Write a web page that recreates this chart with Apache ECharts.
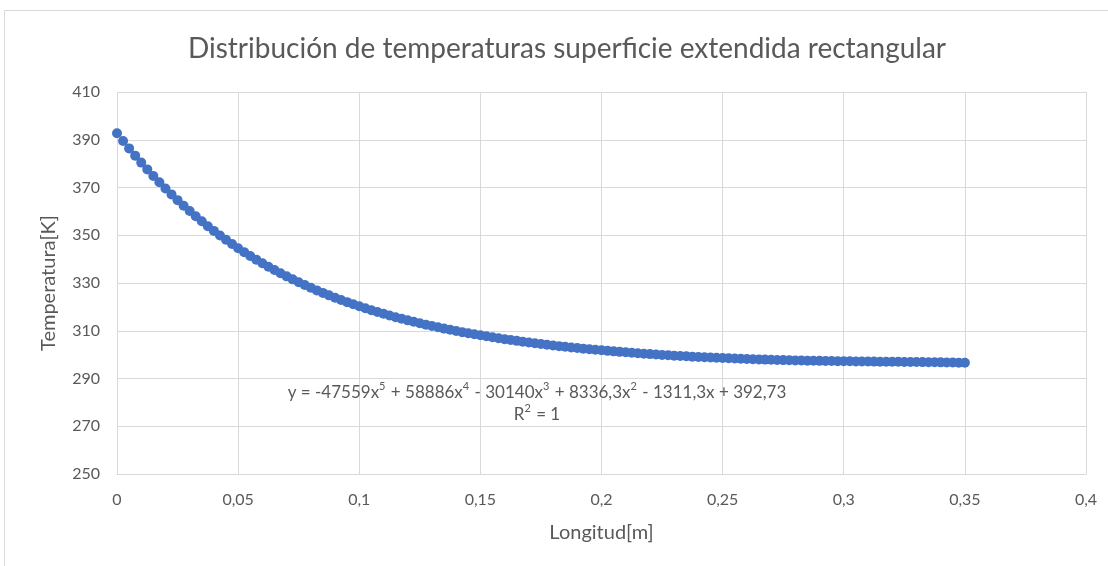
<!DOCTYPE html>
<html>
<head>
<meta charset="utf-8">
<script src="https://cdn.jsdelivr.net/npm/echarts@6/dist/echarts.min.js"></script>
<style>html,body{margin:0;padding:0;background:#fff}#c{width:1108px;height:566px}</style>
</head>
<body>
<div id="c"></div>
<script>
// Longitud [m]
const longitud = [
0,0.0025,0.005,0.0075,0.01,0.0125,0.015,0.0175,0.02,0.0225,
0.025,0.0275,0.03,0.0325,0.035,0.0375,0.04,0.0425,0.045,0.0475,
0.05,0.0525,0.055,0.0575,0.06,0.0625,0.065,0.0675,0.07,0.0725,
0.075,0.0775,0.08,0.0825,0.085,0.0875,0.09,0.0925,0.095,0.0975,
0.1,0.1025,0.105,0.1075,0.11,0.1125,0.115,0.1175,0.12,0.1225,
0.125,0.1275,0.13,0.1325,0.135,0.1375,0.14,0.1425,0.145,0.1475,
0.15,0.1525,0.155,0.1575,0.16,0.1625,0.165,0.1675,0.17,0.1725,
0.175,0.1775,0.18,0.1825,0.185,0.1875,0.19,0.1925,0.195,0.1975,
0.2,0.2025,0.205,0.2075,0.21,0.2125,0.215,0.2175,0.22,0.2225,
0.225,0.2275,0.23,0.2325,0.235,0.2375,0.24,0.2425,0.245,0.2475,
0.25,0.2525,0.255,0.2575,0.26,0.2625,0.265,0.2675,0.27,0.2725,
0.275,0.2775,0.28,0.2825,0.285,0.2875,0.29,0.2925,0.295,0.2975,
0.3,0.3025,0.305,0.3075,0.31,0.3125,0.315,0.3175,0.32,0.3225,
0.325,0.3275,0.33,0.3325,0.335,0.3375,0.34,0.3425,0.345,0.3475,
0.35
];
// Temperatura [K]
const temperatura = [
392.73,389.50,386.38,383.35,380.42,377.58,374.84,372.18,369.61,367.12,
364.71,362.38,360.13,357.95,355.84,353.80,351.83,349.93,348.09,346.31,
344.59,342.93,341.33,339.78,338.28,336.83,335.44,334.09,332.78,331.52,
330.31,329.14,328.00,326.91,325.85,324.83,323.85,322.90,321.98,321.09,
320.24,319.41,318.61,317.84,317.10,316.38,315.68,315.01,314.36,313.74,
313.13,312.54,311.98,311.43,310.90,310.39,309.90,309.42,308.96,308.51,
308.08,307.66,307.25,306.86,306.48,306.11,305.76,305.41,305.08,304.76,
304.44,304.14,303.84,303.56,303.28,303.02,302.76,302.51,302.26,302.03,
301.80,301.58,301.37,301.16,300.96,300.76,300.58,300.40,300.22,300.05,
299.89,299.73,299.58,299.44,299.30,299.16,299.03,298.91,298.79,298.67,
298.56,298.46,298.36,298.26,298.17,298.08,298.00,297.92,297.85,297.78,
297.71,297.65,297.59,297.54,297.48,297.43,297.39,297.34,297.30,297.27,
297.23,297.20,297.16,297.14,297.11,297.08,297.05,297.03,297.00,296.98,
296.95,296.92,296.89,296.86,296.83,296.80,296.76,296.72,296.68,296.63,
296.58
];
const xTickLabels = ['0','0,05','0,1','0,15','0,2','0,25','0,3','0,35','0,4'];
const yTickLabels = ['250','270','290','310','330','350','370','390','410'];
const titleText = 'Distribución de temperaturas superficie extendida rectangular';
// trendline label: [text, isSuperscript]
const eqParts = [['y = -47559x',0],['5',1],[' + 58886x',0],['4',1],[' - 30140x',0],['3',1],
                 [' + 8336,3x',0],['2',1],[' - 1311,3x + 392,73',0]];
const r2Parts = [['R',0],['2',1],[' = 1',0]];

const FONT = 'Lato, "Open Sans", sans-serif';
const TXT = '#595959';
const GRID = '#d9d9d9';

const richText = (parts) => parts.map(p => p[1] ? '{s|' + p[0] + '}' : '{n|' + p[0] + '}').join('');
const rich = {
  n: {fontFamily: FONT, fontSize: 17, color: TXT, verticalAlign: 'bottom', lineHeight: 20},
  s: {fontFamily: FONT, fontSize: 11, color: TXT, verticalAlign: 'top', lineHeight: 20, padding: [0, 1, 0, 0]}
};

const chart = echarts.init(document.getElementById('c'), null, {renderer: 'canvas'});
chart.setOption({
  animation: false,
  backgroundColor: '#fff',
  textStyle: {fontFamily: FONT},
  title: {
    text: titleText, left: 562, top: 30, textAlign: 'center',
    textStyle: {fontFamily: FONT, fontSize: 28, fontWeight: 'normal', color: TXT}
  },
  grid: {left: 117, right: 22, top: 92, bottom: 92, containLabel: false},
  xAxis: {
    type: 'value', min: 0, max: 0.4, interval: 0.05,
    name: 'Longitud[m]', nameLocation: 'middle', nameGap: 49,
    nameTextStyle: {fontFamily: FONT, fontSize: 20, color: TXT},
    axisLine: {show: true, lineStyle: {color: GRID, width: 1}},
    axisTick: {show: false},
    axisLabel: {fontFamily: FONT, fontSize: 16, color: TXT, margin: 18,
      formatter: (v) => xTickLabels[Math.round(v / 0.05)]},
    splitLine: {show: true, lineStyle: {color: GRID, width: 1}}
  },
  yAxis: {
    type: 'value', min: 250, max: 410, interval: 20,
    name: 'Temperatura[K]', nameLocation: 'middle', nameGap: 58,
    nameTextStyle: {fontFamily: FONT, fontSize: 20, color: TXT},
    axisLine: {show: false},
    axisTick: {show: false},
    axisLabel: {fontFamily: FONT, fontSize: 16, color: TXT, margin: 17,
      formatter: (v) => yTickLabels[Math.round((v - 250) / 20)]},
    splitLine: {show: true, lineStyle: {color: GRID, width: 1}}
  },
  series: [{
    type: 'scatter',
    data: longitud.map((x, i) => [x, temperatura[i]]),
    symbol: 'circle', symbolSize: 10,
    itemStyle: {color: '#4472C4', opacity: 1},
    z: 3
  }],
  graphic: [
    {type: 'rect', silent: true, z: 0,
     shape: {x: 4.5, y: 10.5, width: 1200, height: 700},
     style: {fill: 'none', stroke: GRID, lineWidth: 1}},
    {type: 'text', silent: true, z: 100, x: 537, y: 391,
     style: {text: richText(eqParts), rich: rich, fontFamily: FONT, fontSize: 17, fill: TXT,
             textAlign: 'center', textVerticalAlign: 'middle'}},
    {type: 'text', silent: true, z: 100, x: 537, y: 413,
     style: {text: richText(r2Parts), rich: rich, fontFamily: FONT, fontSize: 17, fill: TXT,
             textAlign: 'center', textVerticalAlign: 'middle'}}
  ]
});
</script>
</body>
</html>
